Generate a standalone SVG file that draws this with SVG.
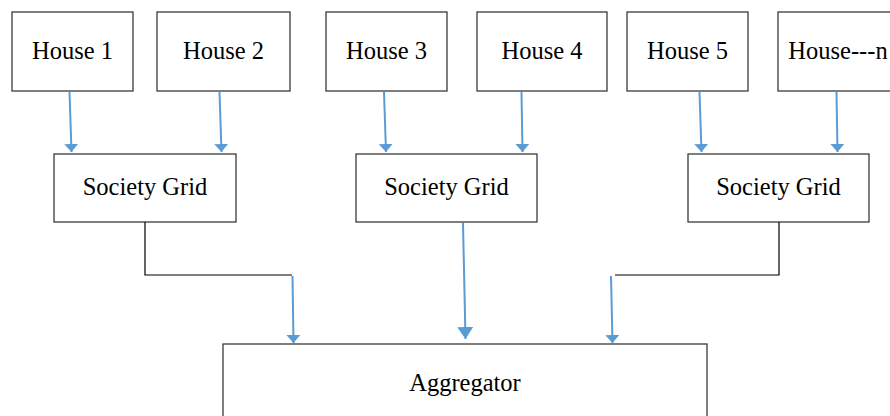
<svg xmlns="http://www.w3.org/2000/svg" width="890" height="416" viewBox="0 0 890 416">
  <style>
    .box { fill: #ffffff; stroke: #3a3a3a; stroke-width: 1.3; }
    .label { font-family: 'Liberation Serif', Tinos, 'Times New Roman', 'DejaVu Serif', serif; font-size: 24.5px; fill: #000000; text-anchor: middle; }
    .flow { fill: none; stroke: #5b9bd5; stroke-width: 2; }
    .link { fill: none; stroke: #000000; stroke-width: 1.2; }
  </style>
  <defs>
    <marker id="head" markerUnits="userSpaceOnUse" markerWidth="12" markerHeight="16" refX="8" refY="7" orient="auto">
      <path d="M0,0 L8,7 L0,14 z" fill="#5b9bd5"/>
    </marker>
    <marker id="headLarge" markerUnits="userSpaceOnUse" markerWidth="14" markerHeight="18" refX="12" refY="8" orient="auto">
      <path d="M0,0 L12,8 L0,16 z" fill="#5b9bd5"/>
    </marker>
  </defs>

  <rect width="890" height="416" fill="#ffffff"/>

  <!-- houses -->
  <g id="house1">
    <rect class="box" x="12" y="12" width="121" height="79"/>
    <text class="label" x="72.5" y="59" font-family="Liberation Serif, serif">House 1</text>
  </g>
  <g id="house2">
    <rect class="box" x="157" y="12" width="133" height="79"/>
    <text class="label" x="223.5" y="59" font-family="Liberation Serif, serif">House 2</text>
  </g>
  <g id="house3">
    <rect class="box" x="326" y="12" width="121" height="79"/>
    <text class="label" x="386.5" y="59" font-family="Liberation Serif, serif">House 3</text>
  </g>
  <g id="house4">
    <rect class="box" x="477" y="12" width="130" height="79"/>
    <text class="label" x="542" y="59" font-family="Liberation Serif, serif">House 4</text>
  </g>
  <g id="house5">
    <rect class="box" x="627" y="12" width="121" height="79"/>
    <text class="label" x="687.5" y="59" font-family="Liberation Serif, serif">House 5</text>
  </g>
  <g id="houseN">
    <rect class="box" x="778" y="12" width="122" height="79"/>
    <text class="label" x="838" y="59" font-family="Liberation Serif, serif">House---n</text>
  </g>

  <!-- society grids -->
  <g id="grid1">
    <rect class="box" x="54" y="154" width="182" height="68"/>
    <text class="label" x="145" y="195" font-family="Liberation Serif, serif">Society Grid</text>
  </g>
  <g id="grid2">
    <rect class="box" x="356" y="154" width="181" height="68"/>
    <text class="label" x="446.5" y="195" font-family="Liberation Serif, serif">Society Grid</text>
  </g>
  <g id="grid3">
    <rect class="box" x="688" y="154" width="181" height="68"/>
    <text class="label" x="778.5" y="195" font-family="Liberation Serif, serif">Society Grid</text>
  </g>

  <!-- aggregator -->
  <g id="aggregator">
    <rect class="box" x="223" y="344" width="484" height="80"/>
    <text class="label" x="465" y="391" font-family="Liberation Serif, serif">Aggregator</text>
  </g>

  <!-- connectors -->
  <g id="connectors">
    <path class="flow" d="M69.5,92 L71.5,152" marker-end="url(#head)"/>
    <path class="flow" d="M219.5,92 L221.5,152" marker-end="url(#head)"/>
    <path class="flow" d="M384,92 L386,152" marker-end="url(#head)"/>
    <path class="flow" d="M521.5,92 L522.5,152" marker-end="url(#head)"/>
    <path class="flow" d="M699.5,92 L701.5,152" marker-end="url(#head)"/>
    <path class="flow" d="M836.5,92 L837.5,152" marker-end="url(#head)"/>

    <path class="link" d="M145,222 V275 H292"/>
    <path class="flow" d="M292.5,276 L293.5,343" marker-end="url(#head)"/>

    <path class="flow" d="M463,223 L465.5,339" marker-end="url(#headLarge)"/>

    <path class="link" d="M779,222 V275 H615"/>
    <path class="flow" d="M611,276 L612.5,343" marker-end="url(#head)"/>
  </g>
</svg>
